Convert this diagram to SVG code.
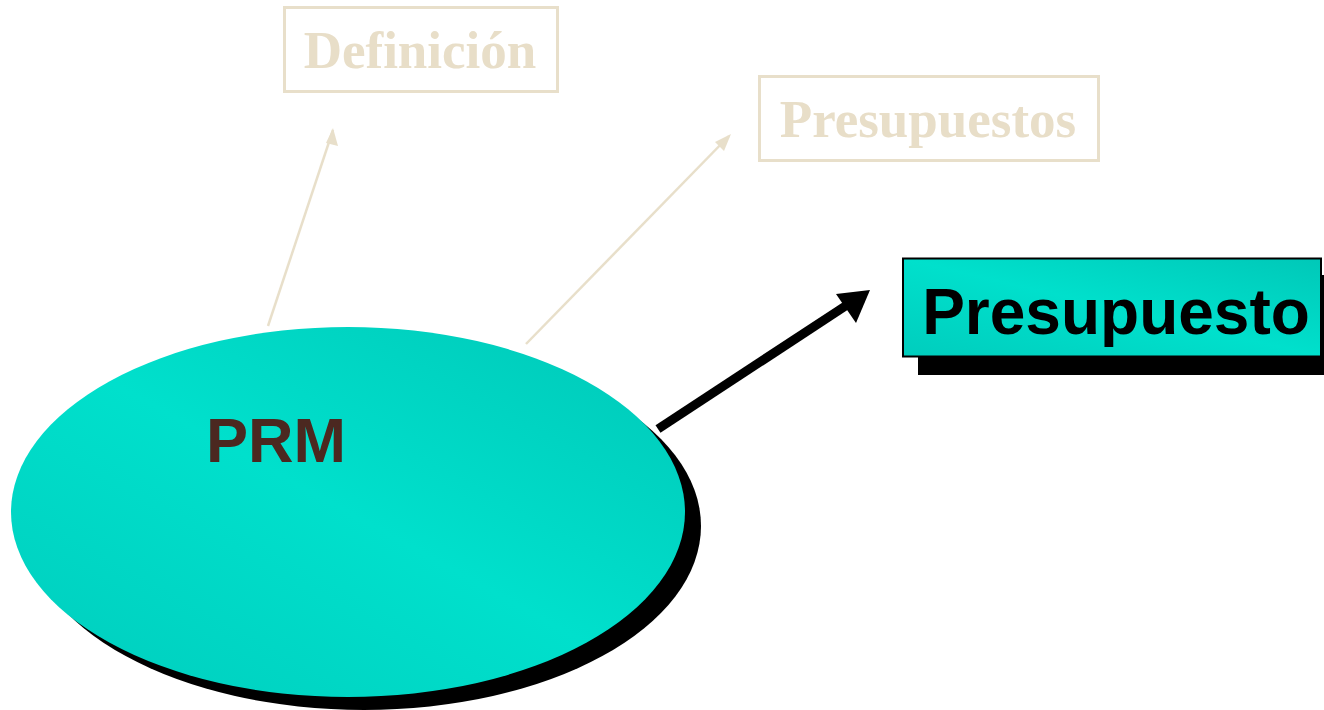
<svg xmlns="http://www.w3.org/2000/svg" width="1324" height="710" viewBox="0 0 1324 710">
<defs>
<linearGradient id="teal" x1="1" y1="0" x2="0" y2="1">
<stop offset="0" stop-color="#00C8B8"/>
<stop offset="0.5" stop-color="#00E0CC"/>
<stop offset="1" stop-color="#00CDBD"/>
</linearGradient>
</defs>
<style>
.faded{fill:none;stroke:#E8DFCA;stroke-width:3}
.fadedText{font-family:"Liberation Serif",serif;font-weight:bold;font-size:53px;fill:#E8DEC8}
.sans{font-family:"Liberation Sans",Arial,sans-serif;font-weight:bold}
</style>
<rect width="1324" height="710" fill="#fff"/>
<g id="connectors">
<line x1="268" y1="326" x2="333" y2="130" stroke="#E8DFCA" stroke-width="2.5"/>
<path d="M333,128 L338,146 L326,143 z" fill="#E8DFCA"/>
<line x1="526" y1="344" x2="729" y2="136" stroke="#E8DFCA" stroke-width="2.5"/>
<path d="M731,134 L724,151 L715,142 z" fill="#E8DFCA"/>
<line x1="658" y1="429" x2="850" y2="303" stroke="#000" stroke-width="9"/>
<path d="M870,290 L836,294 L856,323 z" fill="#000"/>
</g>
<g id="definicion">
<rect class="faded" x="284.5" y="7.5" width="273" height="84"/>
<text class="fadedText" x="420" y="68" text-anchor="middle">Definición</text>
</g>
<g id="presupuestos">
<rect class="faded" x="759.5" y="76.5" width="339" height="84"/>
<text class="fadedText" x="928" y="137" text-anchor="middle">Presupuestos</text>
</g>
<g id="prm">
<ellipse cx="364" cy="526" rx="337" ry="184" fill="#000"/>
<ellipse cx="348" cy="512" rx="337" ry="185" fill="url(#teal)"/>
<text class="sans" x="276" y="462" font-size="63" fill="#4B2820" text-anchor="middle">PRM</text>
</g>
<g id="presupuesto">
<rect x="918" y="275" width="410" height="100" fill="#000"/>
<rect x="903" y="258.5" width="418" height="98" fill="url(#teal)" stroke="#000" stroke-width="2"/>
<text class="sans" x="1116" y="334" font-size="64" fill="#000" text-anchor="middle">Presupuesto</text>
</g>
</svg>
